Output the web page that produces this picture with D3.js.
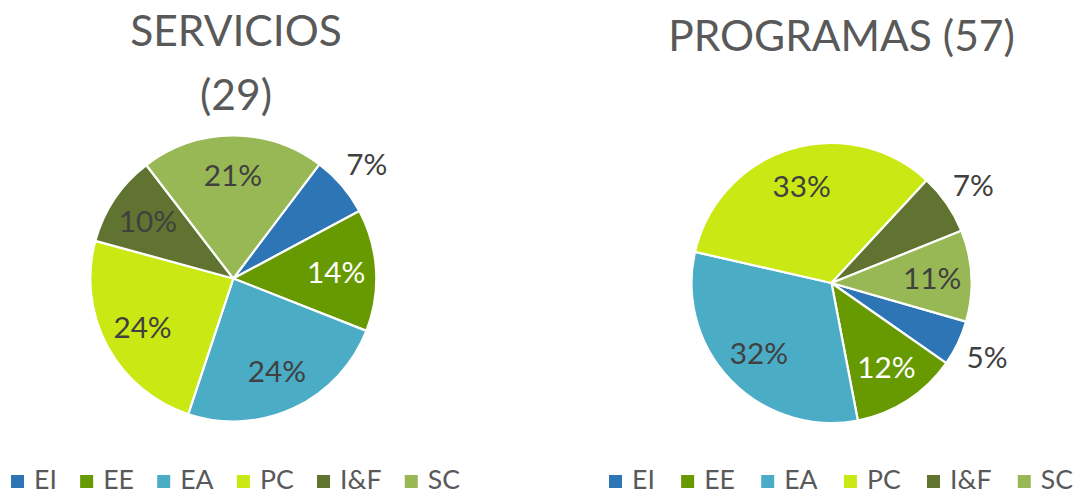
<!DOCTYPE html>
<html>
<head>
<meta charset="utf-8">
<script src="https://cdn.jsdelivr.net/npm/d3@7"></script>
<style>
  html, body { margin: 0; padding: 0; background: #ffffff; }
  svg { display: block; }
</style>
</head>
<body>
<svg id="chart" width="1078" height="495"></svg>
<script>
// ---- data ----
const categories = ["EI", "EE", "EA", "PC", "I&F", "SC"];
const serviciosValues = [2, 4, 7, 7, 3, 6];      // total 29
const programasValues = [3, 7, 18, 19, 4, 6];    // total 57
const serviciosTitle = ["SERVICIOS", "(29)"];
const programasTitle = ["PROGRAMAS (57)"];
const sliceColors = ["#2E75B6", "#669A00", "#4BACC6", "#CAE814", "#617330", "#97B854"];
const labelColors = ["#404040", "#ffffff", "#404040", "#404040", "#404040", "#404040"];

const FONT = "Lato, 'Open Sans', sans-serif";
const svg = d3.select("#chart");

function fitSize(text, targetWidth) {
  const t = svg.append("text").attr("font-family", FONT).attr("font-size", 100).text(text);
  const w = t.node().getComputedTextLength();
  t.remove();
  return 100 * targetWidth / w;
}
function measure(text, size) {
  const t = svg.append("text").attr("font-family", FONT).attr("font-size", size).text(text);
  const w = t.node().getComputedTextLength();
  t.remove();
  return w;
}

const titleSize = (fitSize("SERVICIOS", 206) + fitSize("PROGRAMAS (57)", 356)) / 2;
const labelSize = fitSize("24%", 53) * 1.1;
const legendSize = fitSize("EE", 28.5) * 1.08;

const charts = [
  { values: serviciosValues, title: serviciosTitle, cx: 233.3, cy: 278.5, r: 143, start: 37,
    titleX: 236, titleY: [46, 109.5], legendX0: 11, legendX1: 460 },
  { values: programasValues, title: programasTitle, cx: 831.5, cy: 283, r: 140, start: 106,
    titleX: 841.5, titleY: [50.5], legendX0: 609, legendX1: 1073 }
];

charts.forEach(c => {
  const total = d3.sum(c.values);
  const a0 = c.start * Math.PI / 180;
  const pie = d3.pie().sort(null).startAngle(a0).endAngle(a0 + 2 * Math.PI);
  const arcs = pie(c.values);
  const arc = d3.arc().innerRadius(0).outerRadius(c.r);
  const inArc = d3.arc().innerRadius(c.r * 0.72).outerRadius(c.r * 0.72);
  const outArc = d3.arc().innerRadius(c.r * 1.23).outerRadius(c.r * 1.23);
  const fmt = d3.format(".0%");

  const g = svg.append("g").attr("transform", `translate(${c.cx},${c.cy})`);
  g.selectAll("path.slice").data(arcs).enter().append("path")
    .attr("class", "slice")
    .attr("d", arc)
    .attr("fill", (d, i) => sliceColors[i])
    .attr("stroke", "#ffffff")
    .attr("stroke-width", 2.2)
    .attr("stroke-linejoin", "round");

  g.selectAll("text.lbl").data(arcs).enter().append("text")
    .attr("class", "lbl")
    .attr("transform", d => {
      const frac = d.value / total;
      const p = (frac < 0.08 ? outArc : inArc).centroid(d);
      return `translate(${p[0]},${p[1]})`;
    })
    .attr("text-anchor", "middle")
    .attr("dy", "0.36em")
    .attr("font-family", FONT)
    .attr("font-size", labelSize)
    .attr("fill", (d, i) => (d.value / total < 0.08) ? "#404040" : labelColors[i])
    .text(d => fmt(d.value / total));

  // title
  c.title.forEach((line, k) => {
    svg.append("text")
      .attr("x", c.titleX).attr("y", c.titleY[k])
      .attr("text-anchor", "middle")
      .attr("font-family", FONT)
      .attr("font-size", titleSize)
      .attr("fill", "#595959")
      .text(line);
  });

  // legend
  const sq = 13, gapText = 10;
  const widths = categories.map(t => measure(t, legendSize));
  const used = d3.sum(widths) + categories.length * (sq + gapText);
  const gapItem = (c.legendX1 - c.legendX0 - used) / (categories.length - 1);
  let x = c.legendX0;
  const lg = svg.append("g");
  categories.forEach((cat, i) => {
    lg.append("rect").attr("x", x).attr("y", 475).attr("width", sq).attr("height", sq)
      .attr("fill", sliceColors[i]);
    lg.append("text").attr("x", x + sq + gapText).attr("y", 489)
      .attr("font-family", FONT).attr("font-size", legendSize)
      .attr("fill", "#595959").text(cat);
    x += sq + gapText + widths[i] + gapItem;
  });
});
</script>
</body>
</html>
